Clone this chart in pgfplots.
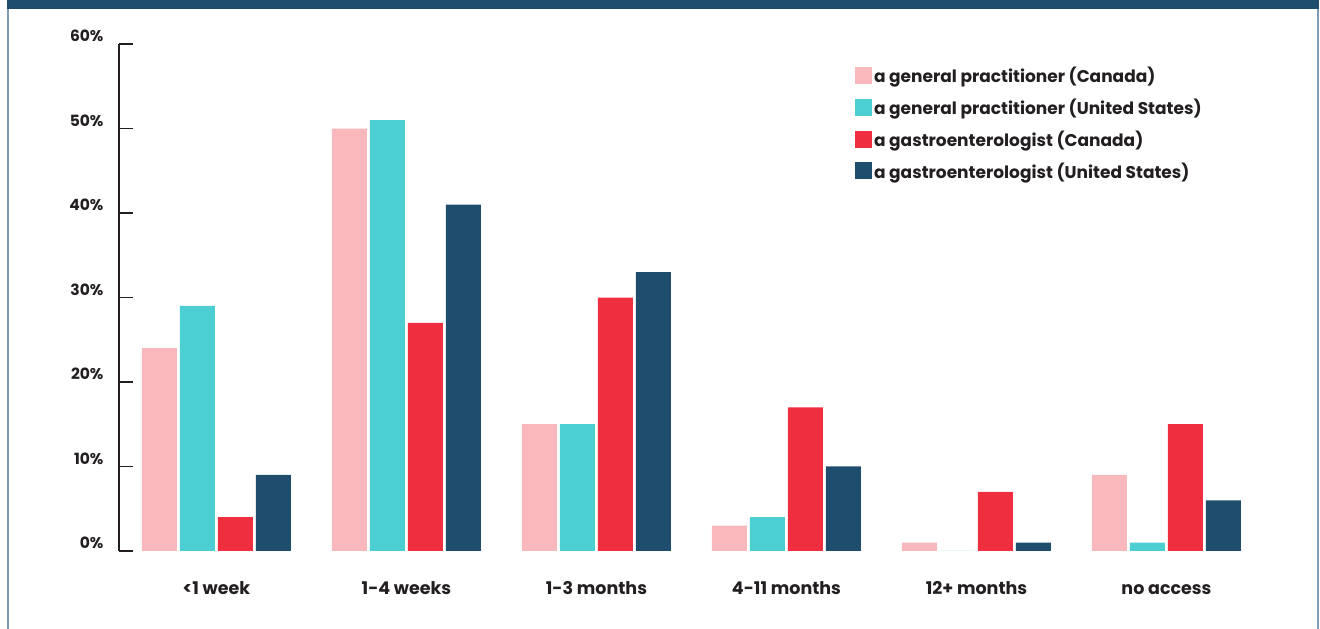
\documentclass[border=0pt]{standalone}
\usepackage{pgfplots}
\pgfplotsset{compat=1.18}
\usepackage{fontspec}
\setmainfont{Poppins}

\definecolor{gpca}{HTML}{F9B8BC}
\definecolor{gpus}{HTML}{4CCFD2}
\definecolor{gica}{HTML}{EF2F3F}
\definecolor{gius}{HTML}{1E4D6E}
\definecolor{framecol}{HTML}{7F9CB4}
\definecolor{ink}{HTML}{231F20}

\begin{document}
\begin{tikzpicture}[x=1pt,y=1pt]
\useasboundingbox (0,0) rectangle (1320,629);
% page frame
\fill[gius] (7,620) rectangle (1319,629);
\fill[framecol] (7,0) rectangle (9,620);
\fill[framecol] (1316.5,0) rectangle (1318.5,620);
\begin{axis}[
  at={(119pt,78pt)}, anchor=south west,
  scale only axis, width=1142.5pt, height=507pt,
  ybar=3pt, bar width=35pt,
  xmin=-0.513, xmax=5.5, ymin=0, ymax=60,
  axis lines*=left,
  x axis line style={draw=none},
  y axis line style={draw=ink, line width=1.2pt},
  xtick=data,
  xticklabels={<1 week,1-4 weeks,1-3 months,4-11 months,12+ months,no access},
  xtick style={draw=none},
  xticklabel style={font=\bfseries\fontsize{17.5}{21}\selectfont, text=ink,
    text height=13pt, text depth=4pt, yshift=-13pt},
  ytick={0,10,...,60},
  yticklabels={0\%,10\%,20\%,30\%,40\%,50\%,60\%},
  ytick align=inside,
  major tick length=14pt,
  ytick style={draw=ink, line width=1.2pt},
  yticklabel style={font=\bfseries\fontsize{15.5}{18}\selectfont, text=ink, anchor=east, xshift=-12pt, yshift=8pt},
  legend style={at={(0.641,0.963)}, anchor=north west, draw=none, fill=none,
    font=\bfseries\fontsize{17}{20}\selectfont, text=ink,
    nodes={inner sep=2.5pt, xshift=1pt}, row sep=9.8pt},
  legend cell align=left,
  legend image code/.code={\fill[#1] (-1pt,-8pt) rectangle (16pt,9pt);},
  every axis plot/.append style={draw=none},
]
\addplot[fill=gpca] coordinates {(0,24) (1,50) (2,15) (3,3) (4,1) (5,9)};
\addlegendentry{a general practitioner (Canada)}
\addplot[fill=gpus] coordinates {(0,29) (1,51) (2,15) (3,4) (4,0) (5,1)};
\addlegendentry{a general practitioner (United States)}
\addplot[fill=gica] coordinates {(0,4) (1,27) (2,30) (3,17) (4,7) (5,15)};
\addlegendentry{a gastroenterologist (Canada)}
\addplot[fill=gius] coordinates {(0,9) (1,41) (2,33) (3,10) (4,1) (5,6)};
\addlegendentry{a gastroenterologist (United States)}
\end{axis}
\end{tikzpicture}
\end{document}
